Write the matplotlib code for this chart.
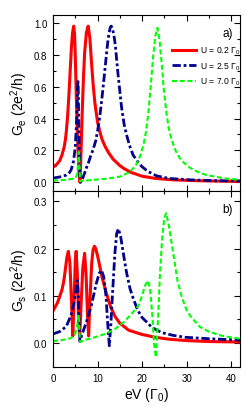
import matplotlib
matplotlib.use("Agg")
import matplotlib.pyplot as plt
from matplotlib.ticker import MultipleLocator

plt.rcParams['font.family'] = ['Liberation Sans', 'DejaVu Sans']
plt.rcParams['mathtext.fontset'] = 'custom'
plt.rcParams['mathtext.rm'] = 'Liberation Sans'
plt.rcParams['mathtext.it'] = 'Liberation Sans:italic'

# panel a) Ge
xa_red = [0, 0.75, 1.5, 2.0, 2.5, 2.8, 3.0, 3.3, 3.6, 3.9, 4.15, 4.4, 4.65, 4.85, 5.05,
          5.25, 5.45, 5.65, 5.85, 6.05, 6.25, 6.55, 6.85, 7.1, 7.5, 7.9, 8.3, 8.6, 9.0,
          9.4, 10, 10.5, 11, 11.7, 12.5, 13.5, 15, 16, 17.5, 20, 23, 27, 32, 37, 42]
ya_red = [0.094, 0.11, 0.135, 0.17, 0.22, 0.27, 0.32, 0.42, 0.56, 0.72, 0.85, 0.94, 0.98,
          0.93, 0.75, 0.52, 0.33, 0.18, 0.06, 0.0, 0.15, 0.43, 0.66, 0.81, 0.94, 0.98, 0.9,
          0.77, 0.62, 0.5, 0.38, 0.32, 0.27, 0.225, 0.185, 0.145, 0.105, 0.085, 0.062,
          0.038, 0.024, 0.015, 0.01, 0.007, 0.005]

xa_blue = [0, 1.5, 3, 3.7, 4.1, 4.6, 5.0, 5.3, 5.45, 5.6, 5.7, 5.8, 6.0, 6.2, 6.6, 7.0,
           7.5, 8.0, 8.4, 9.0, 9.6, 10.0, 10.4, 10.8, 11.2, 11.6, 12.0, 12.3, 12.6, 12.9,
           13.1, 13.4, 13.7, 14.0, 14.6, 15.4, 16.0, 16.5, 17.2, 18, 19, 19.9, 21.3, 23.3,
           26, 30.8, 36, 42]
ya_blue = [0.026, 0.033, 0.045, 0.06, 0.08, 0.13, 0.22, 0.38, 0.5, 0.64, 0.55, 0.35, 0.05,
           0.0, 0.02, 0.05, 0.09, 0.125, 0.16, 0.205, 0.26, 0.32, 0.39, 0.48, 0.58, 0.69,
           0.8, 0.88, 0.94, 0.975, 0.98, 0.96, 0.92, 0.86, 0.68, 0.47, 0.36, 0.3, 0.23,
           0.17, 0.13, 0.1, 0.068, 0.04, 0.024, 0.015, 0.01, 0.008]

xa_green = [0, 3, 5, 5.3, 5.55, 5.8, 5.95, 6.1, 6.5, 9, 12, 15, 17, 18.5, 19.5, 20.3,
            20.9, 21.4, 22.0, 22.5, 23.0, 23.45, 23.9, 24.4, 24.9, 25.5, 26.0, 26.6, 27.5,
            28.5, 29.5, 30.8, 32.5, 34.5, 38.3, 42]
ya_green = [0.01, 0.015, 0.025, 0.04, 0.08, 0.19, 0.1, 0.005, 0.008, 0.015, 0.022, 0.035,
            0.06, 0.1, 0.16, 0.23, 0.32, 0.43, 0.62, 0.79, 0.92, 0.97, 0.9, 0.75, 0.58, 0.43,
            0.34, 0.27, 0.2, 0.15, 0.12, 0.09, 0.065, 0.045, 0.025, 0.015]

# panel b) Gs
xb_red = [0, 1, 2, 2.4, 2.7, 3.1, 3.45, 3.8, 4.1, 4.45, 4.7, 5.0, 5.2, 5.45, 5.75, 6.0,
          6.3, 6.7, 7.1, 7.45, 7.75, 8.0, 8.3, 8.7, 9.0, 9.3, 9.6, 10, 10.5, 11, 12, 13,
          14, 15, 17, 20, 23, 26, 30, 35, 42]
yb_red = [0.068, 0.085, 0.112, 0.13, 0.15, 0.18, 0.194, 0.17, 0.1, 0.015, 0.08, 0.17,
          0.194, 0.15, 0.05, 0.015, 0.08, 0.16, 0.19, 0.14, 0.06, 0.015, 0.09, 0.17, 0.197,
          0.205, 0.2, 0.185, 0.163, 0.14, 0.105, 0.075, 0.055, 0.042, 0.027, 0.018, 0.012,
          0.008, 0.005, 0.003, 0.002]

xb_blue = [0, 1.5, 3, 4.1, 4.6, 5.0, 5.3, 5.5, 5.7, 5.9, 6.05, 6.3, 6.7, 7.5, 8.6, 9.7,
           10.4, 10.9, 11.4, 11.9, 12.3, 12.65, 13.0, 13.4, 13.9, 14.3, 14.7, 15.2, 15.8,
           16.5, 17.3, 18, 19, 20, 21.3, 22.2, 24.4, 27, 29.7, 35, 42]
yb_blue = [0.019, 0.024, 0.035, 0.06, 0.08, 0.1, 0.125, 0.132, 0.1, 0.03, 0.003, 0.012,
           0.023, 0.044, 0.079, 0.125, 0.148, 0.154, 0.14, 0.1, 0.04, -0.006, 0.04, 0.11,
           0.19, 0.232, 0.242, 0.225, 0.19, 0.15, 0.115, 0.095, 0.07, 0.054, 0.042, 0.033,
           0.022, 0.016, 0.012, 0.009, 0.006]

xb_green = [0, 2, 4, 5.0, 5.5, 5.75, 5.95, 6.1, 7, 9.4, 12, 14, 16, 17.5, 19.2, 20, 20.7,
            21.3, 21.8, 22.3, 22.7, 23.1, 23.6, 24.0, 24.5, 25.0, 25.4, 26, 26.5, 27, 27.5,
            28, 29, 30, 31, 33, 35, 38, 42]
yb_green = [0.004, 0.006, 0.01, 0.02, 0.04, 0.06, 0.02, 0.002, 0.006, 0.012, 0.02, 0.03,
            0.045, 0.06, 0.079, 0.1, 0.122, 0.132, 0.115, 0.06, 0.0, -0.03, 0.05, 0.14, 0.22,
            0.265, 0.275, 0.25, 0.22, 0.19, 0.16, 0.13, 0.095, 0.07, 0.055, 0.034, 0.024,
            0.015, 0.009]

labels = [r'U = 0.2 $\Gamma_0$', r'U = 2.5 $\Gamma_0$', r'U = 7.0 $\Gamma_0$']

RED = '#ff0000'
BLUE = '#00008b'
GREEN = '#00ff00'
dashdot = (0, (3, 1, 1, 1))
dashed = (0, (2.4, 1.3))

fig = plt.figure(figsize=(2.46, 4.10), dpi=100)
ax1 = fig.add_axes([0.2154, 0.5317, 0.7602, 0.4293])
ax2 = fig.add_axes([0.2154, 0.1024, 0.7602, 0.4293])

ax1.plot(xa_red, ya_red, color=RED, lw=2.2, label=labels[0])
ax1.plot(xa_blue, ya_blue, color=BLUE, lw=2.0, ls=dashdot, label=labels[1])
ax1.plot(xa_green, ya_green, color=GREEN, lw=1.5, ls=dashed, label=labels[2])

ax2.plot(xb_red, yb_red, color=RED, lw=2.2)
ax2.plot(xb_blue, yb_blue, color=BLUE, lw=2.0, ls=dashdot)
ax2.plot(xb_green, yb_green, color=GREEN, lw=1.5, ls=dashed)

for ax in (ax1, ax2):
    ax.set_xlim(0, 42)
    ax.xaxis.set_major_locator(MultipleLocator(10))
    ax.xaxis.set_minor_locator(MultipleLocator(5))
    ax.tick_params(which='both', direction='in', top=True, right=True, labelsize=7, pad=4)
    ax.tick_params(which='major', length=4, width=0.8)
    ax.tick_params(which='minor', length=2.2, width=0.8)

ax1.set_ylim(-0.055, 1.05)
ax1.yaxis.set_major_locator(MultipleLocator(0.2))
ax1.yaxis.set_minor_locator(MultipleLocator(0.1))
ax1.tick_params(labelbottom=False)
ax1.set_ylabel(r'G$_\mathrm{e}$ (2e$^2$/h)', fontsize=10, labelpad=3)
ax1.text(0.935, 0.9, 'a)', transform=ax1.transAxes, fontsize=8.5, ha='center', va='center')

ax2.set_ylim(-0.051, 0.322)
ax2.yaxis.set_major_locator(MultipleLocator(0.1))
ax2.yaxis.set_minor_locator(MultipleLocator(0.05))
ax2.set_ylabel(r'G$_\mathrm{s}$ (2e$^2$/h)', fontsize=10, labelpad=3)
ax2.set_xlabel(r'eV ($\Gamma_0$)', fontsize=10, labelpad=2)
ax2.text(0.935, 0.9, 'b)', transform=ax2.transAxes, fontsize=8.5, ha='center', va='center')

ax1.legend(loc='upper left', bbox_to_anchor=(0.635, 0.83), frameon=False, fontsize=6.2,
           handlelength=2.8, handletextpad=0.5, labelspacing=0.45, borderpad=0,
           borderaxespad=0)

fig.savefig('out.png', dpi=100)
